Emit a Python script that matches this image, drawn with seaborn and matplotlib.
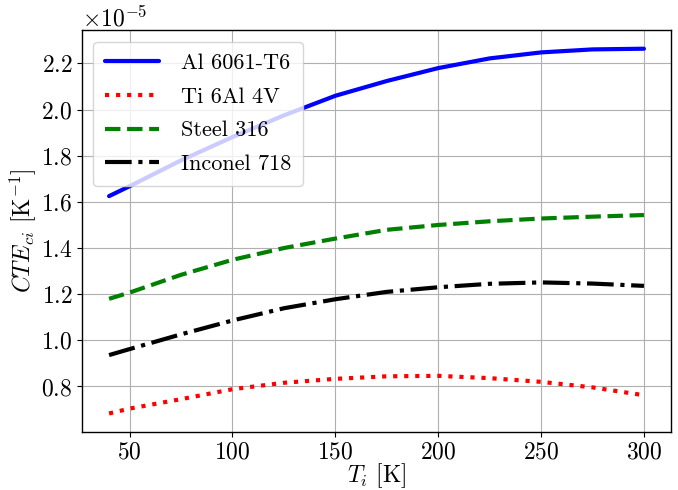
import matplotlib
matplotlib.use("Agg")
import matplotlib.pyplot as plt
import seaborn as sns
import pandas as pd

# Temperature samples [K]
temperature = [40, 50, 75, 100, 125, 150, 175, 200, 225, 250, 275, 300]

# Coefficient of thermal expansion, in units of 1e-5 1/K
cte_al6061 = [1.625, 1.668, 1.780, 1.881, 1.975, 2.060, 2.124, 2.180, 2.222, 2.248, 2.261, 2.264]
cte_ti6al4v = [0.683, 0.704, 0.745, 0.788, 0.816, 0.833, 0.844, 0.846, 0.836, 0.820, 0.796, 0.762]
cte_steel316 = [1.180, 1.207, 1.284, 1.349, 1.400, 1.441, 1.479, 1.500, 1.516, 1.528, 1.536, 1.543]
cte_inconel718 = [0.936, 0.962, 1.026, 1.086, 1.139, 1.178, 1.210, 1.230, 1.245, 1.251, 1.246, 1.236]

materials = ["Al 6061-T6", "Ti 6Al 4V", "Steel 316", "Inconel 718"]
series = [cte_al6061, cte_ti6al4v, cte_steel316, cte_inconel718]
colors = ["blue", "red", "green", "black"]
linestyles = ["-", ":", "--", "-."]

sns.set_theme(style="ticks")
plt.rcParams.update({
    "font.family": ["cmr10", "DejaVu Serif"],
    "mathtext.fontset": "cm",
    "axes.formatter.use_mathtext": True,
    "axes.unicode_minus": False,
    "axes.edgecolor": "black",
    "axes.linewidth": 1.0,
    "xtick.color": "black",
    "ytick.color": "black",
    "text.color": "black",
    "axes.labelcolor": "black",
})

fig = plt.figure(figsize=(6.78, 4.90), dpi=100)
ax = fig.add_axes([0.1214, 0.119, 0.8678, 0.8188])

frames = []
for name, vals in zip(materials, series):
    frames.append(pd.DataFrame({"T": temperature,
                                "CTE": [v * 1e-5 for v in vals],
                                "material": name}))
df = pd.concat(frames, ignore_index=True)

for name, col, ls in zip(materials, colors, linestyles):
    sns.lineplot(data=df[df["material"] == name], x="T", y="CTE",
                 color=col, linestyle=ls, linewidth=3, label=name, ax=ax)

ax.grid(True, color="#b0b0b0", linewidth=0.8)
ax.set_axisbelow(True)
for s in ax.spines.values():
    s.set_visible(True)
    s.set_color("black")

ax.set_xticks([50, 100, 150, 200, 250, 300])
ax.set_yticks([v * 1e-5 for v in [0.8, 1.0, 1.2, 1.4, 1.6, 1.8, 2.0, 2.2]])
ax.tick_params(axis="both", labelsize=17, direction="out", length=3.5, width=0.8)
ax.yaxis.get_offset_text().set_fontsize(17)

ax.set_xlabel(r"$T_i$ [K]", fontsize=17, labelpad=-1.5)
ax.set_ylabel(r"$CTE_{ci}$ [K$^{-1}$]", fontsize=17, labelpad=2)

leg = ax.legend(loc="upper left", fontsize=16, handlelength=2.4,
                handletextpad=1.0, labelspacing=0.64, borderpad=0.53,
                framealpha=0.8, edgecolor="#cccccc", fancybox=True)

fig.savefig("out.png", dpi=100)
